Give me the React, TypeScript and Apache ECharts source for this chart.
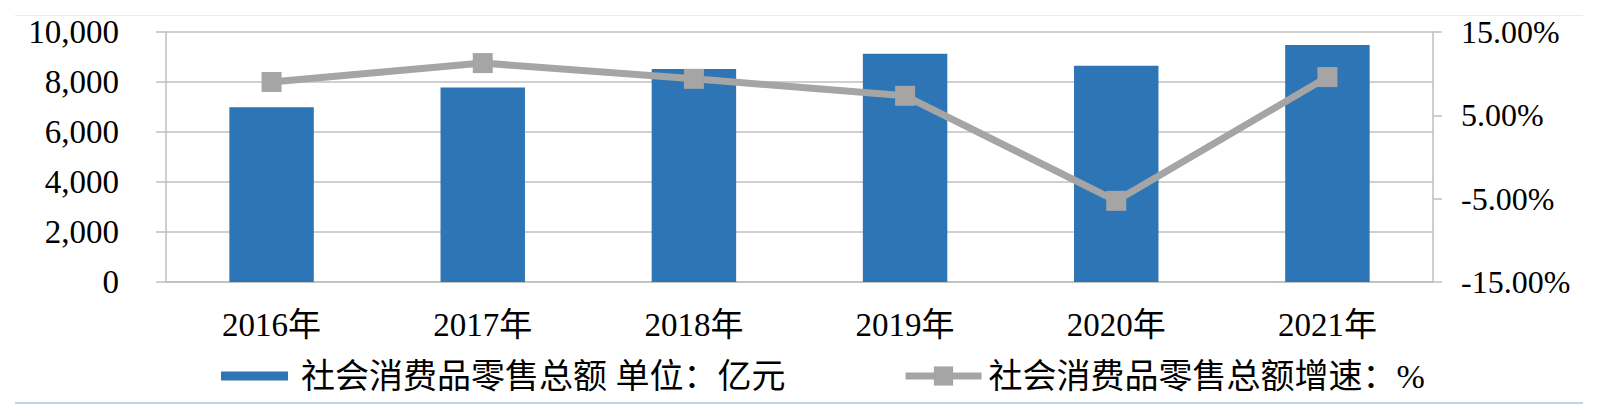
import React, { useEffect, useRef } from "react";
import * as echarts from "echarts";

const categories = ["2016年", "2017年", "2018年", "2019年", "2020年", "2021年"];
const salesValues = [6993, 7780, 8516, 9130, 8649, 9479];
const growthValues = [9.0, 11.27, 9.38, 7.34, -5.26, 9.59];
const leftTicks = { min: 0, max: 10000, interval: 2000 };
const rightOffset = 15; // right axis runs -15%..15%
const rightTicks = { min: 0, max: 30, interval: 10 };
const barName = "社会消费品零售总额 单位：亿元";
const lineName = "社会消费品零售总额增速：%";

const FONT = "'Liberation Serif', 'Noto Sans CJK SC', serif";

export default function App() {
  const ref = useRef<HTMLDivElement>(null);
  useEffect(() => {
    if (!ref.current) return;
    const chart = echarts.init(ref.current, null, { renderer: "svg" });
    chart.setOption({
      animation: false,
      backgroundColor: "#ffffff",
      grid: { left: 166, right: 165, top: 32, bottom: 134 },
      xAxis: {
        type: "category",
        data: categories,
        axisLine: { show: true, lineStyle: { color: "#bfbfbf", width: 1.5 } },
        axisTick: { show: false },
        axisLabel: { color: "#000", fontFamily: FONT, fontSize: 33, margin: 26 },
      },
      yAxis: [
        {
          type: "value",
          min: leftTicks.min,
          max: leftTicks.max,
          interval: leftTicks.interval,
          axisLine: { show: true, lineStyle: { color: "#bfbfbf", width: 1.5 } },
          axisTick: { show: true, length: 10, lineStyle: { color: "#bfbfbf", width: 1.5 } },
          splitLine: { show: true, lineStyle: { color: "#cfcfcf", width: 2 } },
          axisLabel: {
            color: "#000",
            fontFamily: FONT,
            fontSize: 33,
            margin: 47,
            formatter: (v: number) => v.toLocaleString("en-US"),
          },
        },
        {
          type: "value",
          position: "right",
          min: rightTicks.min,
          max: rightTicks.max,
          interval: rightTicks.interval,
          axisLine: { show: true, lineStyle: { color: "#bfbfbf", width: 1.5 } },
          axisTick: { show: true, length: 9, lineStyle: { color: "#bfbfbf", width: 1.5 } },
          splitLine: { show: false },
          axisLabel: {
            color: "#000",
            fontFamily: FONT,
            fontSize: 32,
            margin: 28,
            formatter: (v: number) => (v - rightOffset).toFixed(2) + "%",
          },
        },
      ],
      legend: [
        {
          data: [{ name: barName, icon: "rect" }],
          left: 216,
          top: 354,
          itemWidth: 67,
          itemHeight: 9,
          textStyle: { color: "#000", fontFamily: FONT, fontSize: 34, padding: [0, 0, 0, 8] },
        },
        {
          data: [lineName],
          left: 897,
          top: 354,
          itemWidth: 76,
          itemHeight: 24,
          lineStyle: { width: 7, color: "#A5A5A5" },
          textStyle: { color: "#000", fontFamily: FONT, fontSize: 34, padding: [0, 0, 0, 2] },
        },
      ],
      series: [
        {
          name: barName,
          type: "bar",
          yAxisIndex: 0,
          data: salesValues,
          barWidth: "40%",
          itemStyle: { color: "#2E75B6" },
        },
        {
          name: lineName,
          type: "line",
          yAxisIndex: 1,
          data: growthValues.map((v) => v + rightOffset),
          symbol: "rect",
          symbolSize: 20,
          lineStyle: { color: "#A5A5A5", width: 7 },
          itemStyle: { color: "#A5A5A5" },
        },
      ],
      graphic: [
        {
          type: "line",
          shape: { x1: 15, y1: 15.5, x2: 1583, y2: 15.5 },
          style: { stroke: "#e6ebeb", lineWidth: 1 },
        },
        {
          type: "line",
          shape: { x1: 15, y1: 403, x2: 1583, y2: 403 },
          style: { stroke: "#a9c8d4", lineWidth: 1.5 },
        },
      ],
    });
    return () => chart.dispose();
  }, []);
  return (
    <div
      ref={ref}
      style={{ position: "fixed", left: 0, top: 0, width: 1598, height: 416 }}
    />
  );
}
